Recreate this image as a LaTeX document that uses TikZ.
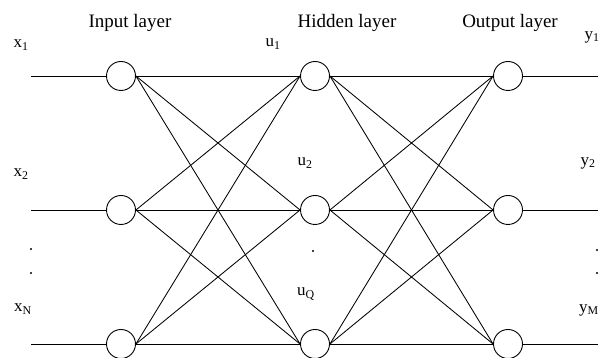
\documentclass[tikz,border=0pt]{standalone}
\usepackage{fontspec}
\setmainfont{Liberation Serif}
\begin{document}
\begin{tikzpicture}[x=1pt,y=1pt,
  neuron/.style={circle,draw,line width=0.9pt,minimum size=29pt,inner sep=0pt,fill=white},
  wire/.style={line width=0.85pt},
  title/.style={font=\fontsize{19}{21}\selectfont,inner sep=0pt},
  lab/.style={font=\fontsize{17}{19}\selectfont,inner sep=0pt},
  dotmark/.style={circle,fill=black,inner sep=0pt,minimum size=2.2pt}]
\useasboundingbox (0,0) rectangle (603,358);
% neurons
\foreach \n/\x in {i/121,h/315,o/508}{
  \node[neuron] (\n1) at (\x,282) {};
  \node[neuron] (\n2) at (\x,148) {};
  \node[neuron] (\n3) at (\x,14) {};
}
% free ends
\foreach \k/\y in {1/282,2/148,3/14}{
  \coordinate (l\k) at (31,\y);
  \coordinate (r\k) at (598,\y);
  \draw[wire] (l\k) -- (i\k.west);
  \draw[wire] (o\k.east) -- (r\k);
}
% full connections
\foreach \a in {1,2,3}{
  \foreach \b in {1,2,3}{
    \draw[wire] (i\a.east) -- (h\b.west);
    \draw[wire] (h\a.east) -- (o\b.west);
  }
}
% titles
\node[title] (tin) at (130,335) {Input layer};
\node[title] (thid) at (347,335) {Hidden layer};
\node[title] (tout) at (510,335) {Output layer};
% labels
\node[lab] (x1) at (21,313) {x\textsubscript{1}};
\node[lab] (x2) at (21,184) {x\textsubscript{2}};
\node[lab] (xN) at (23,49) {x\textsubscript{N}};
\node[lab] (u1) at (273,314) {u\textsubscript{1}};
\node[lab] (u2) at (305,195) {u\textsubscript{2}};
\node[lab] (uQ) at (306,64) {u\textsubscript{Q}};
\node[lab] (y1) at (592,321) {y\textsubscript{1}};
\node[lab] (y2) at (588,195) {y\textsubscript{2}};
\node[lab] (yM) at (589,48) {y\textsubscript{M}};
% dots
\node[dotmark] (dl1) at (31,109) {};
\node[dotmark] (dl2) at (31,85) {};
\node[dotmark] (dh) at (313,107) {};
\node[dotmark] (dr1) at (597,108) {};
\node[dotmark] (dr2) at (597,85) {};
\end{tikzpicture}
\end{document}
